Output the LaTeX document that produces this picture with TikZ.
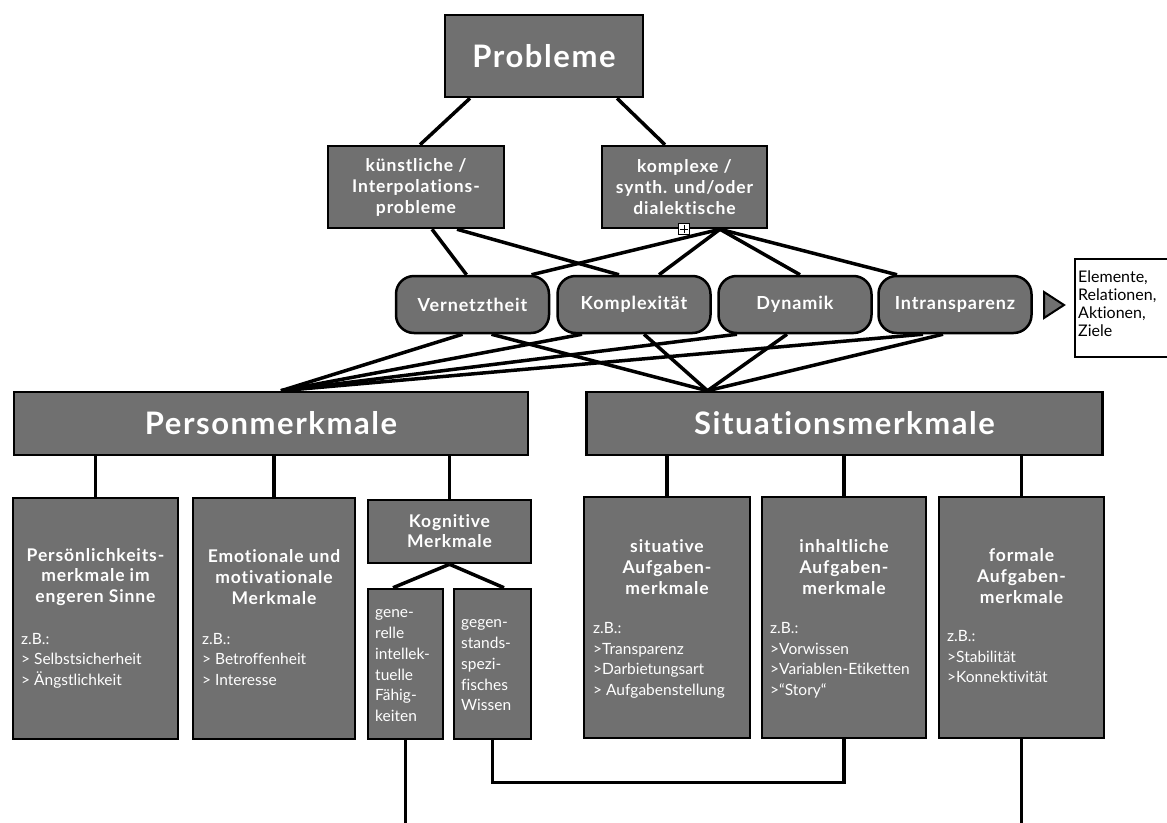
\documentclass[tikz,border=0pt]{standalone}
\usepackage{fontspec}
\setmainfont{Lato}[Ligatures=NoCommon]
\newfontfamily\hdfont{Lato}[LetterSpace=5,Ligatures=NoCommon]
\usetikzlibrary{calc,backgrounds}
\definecolor{boxgray}{RGB}{112,112,112}
\begin{document}
\begin{tikzpicture}[x=1pt,y=-1pt,
  box/.style={draw=black, line width=2.5pt, fill=boxgray, inner sep=0pt, text=white, align=center},
  bigbox/.style={box, font=\hdfont\bfseries\fontsize{31}{36}\selectfont},
  midbox/.style={box, minimum height=82pt, font=\hdfont\bfseries\fontsize{17.5}{21}\selectfont},
  rbox/.style={box, rounded corners=18pt, minimum width=153pt, minimum height=57pt, font=\hdfont\bfseries\fontsize{18}{20}\selectfont},
  lowbox/.style={box, minimum height=241pt},
  title/.style={text=white, align=center, inner sep=0pt, font=\hdfont\bfseries\fontsize{17.5}{20.7}\selectfont},
  body/.style={text=white, align=left, inner sep=0pt, anchor=north west, font=\fontsize{15.5}{20.6}\selectfont},
  conn/.style={line width=3.5pt, black, line join=miter}
]
\useasboundingbox (0,0) rectangle (1167,822);

% top
\node[box, minimum width=198pt, minimum height=82pt, font=\hdfont\bfseries\fontsize{31}{36}\selectfont] (prob) at (544,56) {Probleme};
\node[midbox, minimum width=176pt] (kuen) at (416,187) {künstliche /\\Interpolations-\\probleme};
\node[midbox, minimum width=165pt] (komp) at (684.5,187) {komplexe /\\synth. und/oder\\dialektische};

% rounded
\node[rbox] (vern) at (472.5,304.5) {Vernetztheit};
\node[rbox] (kplx) at (634,304.5) {Komplexität};
\node[rbox] (dyn) at (795,304.5) {Dynamik};
\node[rbox] (intr) at (955,304.5) {Intransparenz};

% triangle and elements box
\draw[fill=boxgray, line width=2pt, line join=miter] (1044,292) -- (1044,318) -- (1064,305) -- cycle;
\node[draw=black, line width=2pt, fill=white, minimum width=100pt, minimum height=98pt, inner sep=0pt, anchor=north west] (elem) at (1074,258) {};
\node[anchor=north west, align=left, inner sep=0pt, font=\fontsize{16}{18}\selectfont] (elemtext) at (1078,269.4) {\strut Elemente,\\Relationen,\\Aktionen,\\Ziele};

% main categories
\node[bigbox, minimum width=514pt, minimum height=63pt] (pm) at (271,423.5) {Personmerkmale};
\node[bigbox, minimum width=516pt, minimum height=63pt] (sm) at (844.5,423.5) {Situationsmerkmale};

% lower boxes
\node[lowbox, minimum width=165pt] (p1) at (95.5,618.5) {};
\node[lowbox, minimum width=162pt] (p2) at (274,618.5) {};
\node[box, minimum width=163pt, minimum height=63pt, font=\hdfont\bfseries\fontsize{17.5}{20}\selectfont] (kog) at (449.5,531.5) {Kognitive\\Merkmale};
\node[box, minimum width=75pt, minimum height=150pt] (gen) at (405.5,664) {};
\node[box, minimum width=77pt, minimum height=150pt] (geg) at (492.5,664) {};
\node[lowbox, minimum width=166pt] (s1) at (667,617.5) {};
\node[lowbox, minimum width=164pt] (s2) at (844,617.5) {};
\node[lowbox, minimum width=165pt] (s3) at (1021.5,617.5) {};

% texts in lower boxes
\node[title] (p1t) at (95.5,577) {Persönlichkeits-\\merkmale im\\engeren Sinne};
\node[body] (p1b) at (21,629.6) {\strut z.B.:\\> Selbstsicherheit\\> Ängstlichkeit};
\node[title] (p2t) at (274,577) {Emotionale und\\motivationale\\Merkmale};
\node[body] (p2b) at (202,629.6) {\strut z.B.:\\> Betroffenheit\\> Interesse};
\node[body, font=\fontsize{15.5}{20.8}\selectfont] (gent) at (375,603) {\strut gene-\\relle\\intellek-\\tuelle\\Fähig-\\keiten};
\node[body, font=\fontsize{15.5}{20.8}\selectfont] (gegt) at (461,613) {\strut gegen-\\stands-\\spezi-\\fisches\\Wissen};
\node[title] (s1t) at (667,567) {situative\\Aufgaben-\\merkmale};
\node[body] (s1b) at (593,619) {\strut z.B.:\\>Transparenz\\>Darbietungsart\\> Aufgabenstellung};
\node[title] (s2t) at (844,567) {inhaltliche\\Aufgaben-\\merkmale};
\node[body] (s2b) at (770,619) {\strut z.B.:\\>Vorwissen\\>Variablen-Etiketten\\>“Story“};
\node[title] (s3t) at (1021.5,576) {formale\\Aufgaben-\\merkmale};
\node[body] (s3b) at (947,627) {\strut z.B.:\\>Stabilität\\>Konnektivität};

% connectors
\coordinate (kf) at ([xshift=35.5pt]komp.south);
\coordinate (pf) at ([xshift=10pt]pm.north);
\coordinate (sf) at ([xshift=-137pt]sm.north);
\coordinate (genend) at (405.5,824);
\coordinate (s3end) at (1021.5,824);
\begin{scope}[on background layer]
  \draw[conn] ([xshift=-74pt]prob.south) -- ([xshift=4pt]kuen.north);
  \draw[conn] ([xshift=73pt]prob.south) -- ([xshift=-19.5pt]komp.north);
  \draw[conn] ([xshift=16pt]kuen.south) -- ([xshift=-6pt]vern.north);
  \draw[conn] ([xshift=41pt]kuen.south) -- ([xshift=-15pt]kplx.north);
  \draw[conn] (kf) -- ([xshift=59pt]vern.north);
  \draw[conn] (kf) -- ([xshift=25pt]kplx.north);
  \draw[conn] (kf) -- ([xshift=5pt]dyn.north);
  \draw[conn] (kf) -- ([xshift=-58pt]intr.north);
  \draw[conn] ([xshift=-10pt]vern.south) -- (pf);
  \draw[conn] ([xshift=19pt]vern.south) -- (sf);
  \draw[conn] ([xshift=-52pt]kplx.south) -- (pf);
  \draw[conn] ([xshift=10pt]kplx.south) -- (sf);
  \draw[conn] ([xshift=-58pt]dyn.south) -- (pf);
  \draw[conn] ([xshift=-8pt]dyn.south) -- (sf);
  \draw[conn] ([xshift=-32pt]intr.south) -- (pf);
  \draw[conn] ([xshift=-12pt]intr.south) -- (sf);
  \draw[conn] (p1.north) -- (p1.north |- pm.south);
  \draw[conn] (p2.north) -- (p2.north |- pm.south);
  \draw[conn] (kog.north) -- (kog.north |- pm.south);
  \draw[conn] (s1.north) -- (s1.north |- sm.south);
  \draw[conn] (s2.north) -- (s2.north |- sm.south);
  \draw[conn] (s3.north) -- (s3.north |- sm.south);
  \draw[conn] (kog.south) -- ([xshift=-12.5pt]gen.north);
  \draw[conn] (kog.south) -- ([xshift=11.5pt]geg.north);
  \draw[conn] (gen.south) -- (genend);
  \draw[conn] (geg.south) |- ($(s2.south)+(0,43)$) -- (s2.south);
  \draw[conn] (s3.south) -- (s3end);
\end{scope}

% plus icon
\node[draw=black, fill=white, line width=0.8pt, minimum size=11pt, inner sep=0pt] (plus) at (684,229) {};
\draw[line width=0.9pt] ([yshift=-2pt]plus.north) -- ([yshift=2pt]plus.south) ([xshift=2pt]plus.west) -- ([xshift=-2pt]plus.east);
\end{tikzpicture}
\end{document}
